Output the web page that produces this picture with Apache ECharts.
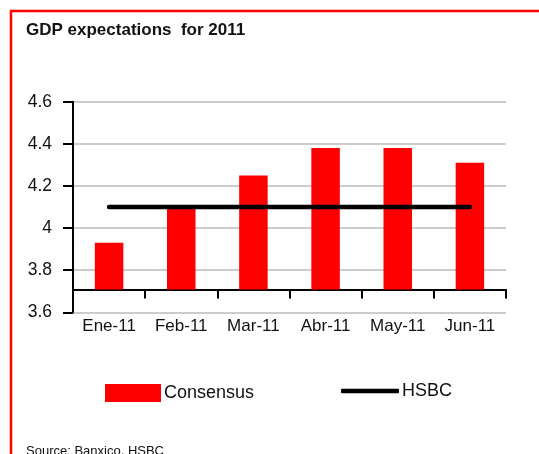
<!DOCTYPE html>
<html>
<head>
<meta charset="utf-8">
<script src="https://cdn.jsdelivr.net/npm/echarts@6/dist/echarts.min.js"></script>
<style>
html,body{margin:0;padding:0;background:#fff;}
#c{width:539px;height:454px;}
</style>
</head>
<body>
<div id="c"></div>
<script>
var categories = ['Ene-11', 'Feb-11', 'Mar-11', 'Abr-11', 'May-11', 'Jun-11'];
var consensus = [3.93, 4.09, 4.25, 4.38, 4.38, 4.31];
var hsbc = [4.1, 4.1, 4.1, 4.1, 4.1, 4.1];
var yTicks = [3.6, 3.8, 4.0, 4.2, 4.4, 4.6];
var seriesNames = ['Consensus', 'HSBC'];
var titleText = 'GDP expectations  for 2011';
var sourceText = 'Source: Banxico, HSBC';

var FONT = 'Liberation Sans, Arial, sans-serif';
var chart = echarts.init(document.getElementById('c'), null, {renderer: 'canvas'});
var option = {
  backgroundColor: '#fff',
  animation: false,
  title: {
    text: titleText,
    left: 26, top: 22, padding: 0,
    textStyle: {fontFamily: FONT, fontSize: 17, fontWeight: 'bold', color: '#111'}
  },
  graphic: [
    {type: 'polyline', shape: {points: [[11, 470], [11, 11], [560, 11]]},
     style: {stroke: '#ff0000', lineWidth: 2.5, fill: null}, silent: true},
    {type: 'text', left: 26, top: 444.5,
     style: {text: sourceText, font: '13px ' + FONT, fill: '#111'}}
  ],
  legend: [
    {data: [seriesNames[0]], left: 105, top: 384, padding: 0, itemWidth: 56, itemHeight: 18, itemGap: 0,
     icon: 'rect', textStyle: {fontFamily: FONT, fontSize: 18, color: '#111', padding: [0, 0, 0, -2]}},
    {data: [seriesNames[1]], left: 341, top: 382, padding: 0, itemWidth: 58, itemHeight: 4.5, itemGap: 0,
     icon: 'roundRect', itemStyle: {color: '#000', borderWidth: 0},
     textStyle: {fontFamily: FONT, fontSize: 18, color: '#111', padding: [0, 0, 0, -2]}}
  ],
  grid: [
    {left: 73, right: 33, top: 101.7, height: 210.6, containLabel: false},
    {left: 73, right: 33, top: 101.7, height: 187.8, containLabel: false}
  ],
  xAxis: [
    {type: 'category', gridIndex: 0, data: categories, boundaryGap: true,
     axisLine: {show: false}, axisTick: {show: false},
     axisLabel: {fontFamily: FONT, fontSize: 17, color: '#111', margin: 6},
     splitLine: {show: false}},
    {type: 'category', gridIndex: 1, data: categories, boundaryGap: true,
     axisLine: {show: true, onZero: false, lineStyle: {color: '#000', width: 2}},
     axisTick: {show: true, inside: false, length: 9, lineStyle: {color: '#000', width: 2}},
     axisLabel: {show: false}, splitLine: {show: false}}
  ],
  yAxis: [
    {type: 'value', gridIndex: 0, min: 3.6, max: 4.6, interval: 0.2,
     axisLine: {show: true, lineStyle: {color: '#000', width: 2}},
     axisTick: {show: true, inside: false, length: 10, lineStyle: {color: '#000', width: 2}},
     axisLabel: {fontFamily: FONT, fontSize: 17.5, color: '#111', margin: 21,
       formatter: function (v) {
         var t = yTicks.reduce(function (a, b) { return Math.abs(b - v) < Math.abs(a - v) ? b : a; });
         return String(Math.round(t * 10) / 10);
       }},
     splitLine: {show: true, lineStyle: {color: '#cccccc', width: 2}}},
    {type: 'value', gridIndex: 1, min: 3.708, max: 4.6,
     axisLine: {show: false}, axisTick: {show: false}, axisLabel: {show: false}, splitLine: {show: false}}
  ],
  series: [
    {name: seriesNames[0], type: 'bar', xAxisIndex: 1, yAxisIndex: 1, data: consensus,
     barWidth: 28.5, itemStyle: {color: '#ff0000'}, z: 2},
    {name: seriesNames[1], type: 'line', xAxisIndex: 0, yAxisIndex: 0, data: hsbc,
     symbol: 'none', showSymbol: false,
     lineStyle: {color: '#000', width: 4.5, cap: 'round'}, itemStyle: {color: '#000'}, z: 3}
  ]
};
chart.setOption(option);
</script>
</body>
</html>
